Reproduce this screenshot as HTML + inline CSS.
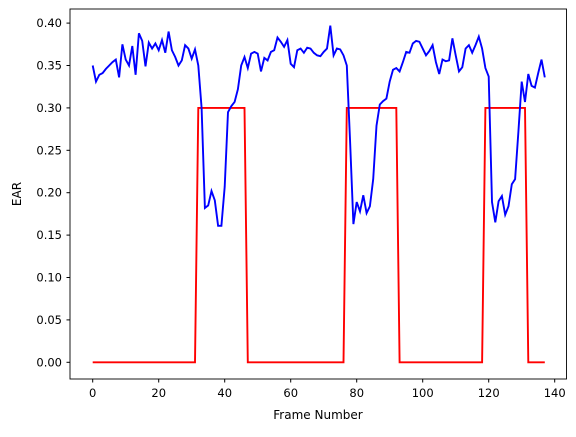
<!DOCTYPE html>
<html><head><meta charset="utf-8"><style>
body{margin:0;background:#fff;font-family:"Liberation Sans","DejaVu Sans",sans-serif;}
</style></head><body>
<svg id="chart" width="576" height="432" xmlns="http://www.w3.org/2000/svg" font-family="DejaVu Sans, Liberation Sans, sans-serif" font-size="11.5">
<rect width="576" height="432" fill="#fff"/>
<g id="grid"></g>
<polyline id="red" fill="none" stroke="#ff0000" stroke-width="1.9"/>
<polyline id="blue" fill="none" stroke="#0000ff" stroke-width="1.9"/>
<rect x="70" y="9" width="496.5" height="370" fill="none" stroke="#000" stroke-width="0.9"/>
<text x="318" y="419" text-anchor="middle" font-size="12">Frame Number</text>
<text transform="translate(21,194) rotate(-90)" text-anchor="middle" font-size="12">EAR</text>
</svg>
<script>
const earValues=[0.350,0.331,0.339,0.341,0.346,0.350,0.354,0.357,0.336,0.375,0.357,0.350,0.373,0.339,0.388,0.379,0.349,0.377,0.370,0.376,0.368,0.380,0.365,0.390,0.368,0.360,0.350,0.356,0.374,0.370,0.358,0.369,0.350,0.300,0.182,0.185,0.202,0.191,0.161,0.161,0.207,0.295,0.302,0.307,0.322,0.350,0.360,0.347,0.364,0.366,0.364,0.343,0.359,0.356,0.366,0.368,0.383,0.378,0.372,0.380,0.352,0.348,0.368,0.370,0.365,0.371,0.370,0.365,0.362,0.361,0.366,0.370,0.397,0.362,0.370,0.369,0.362,0.350,0.260,0.163,0.189,0.178,0.197,0.176,0.184,0.216,0.279,0.304,0.308,0.311,0.331,0.345,0.347,0.343,0.354,0.366,0.365,0.376,0.379,0.378,0.370,0.362,0.367,0.374,0.354,0.340,0.357,0.355,0.356,0.382,0.362,0.343,0.348,0.370,0.374,0.365,0.374,0.384,0.370,0.347,0.337,0.189,0.165,0.190,0.196,0.174,0.184,0.210,0.216,0.272,0.331,0.307,0.340,0.326,0.324,0.341,0.357,0.336];
const blinkOn=[[32,46],[77,92],[119,131]];
const xTicks=[0,20,40,60,80,100,120,140];
const yTicks=[0,0.05,0.10,0.15,0.20,0.25,0.30,0.35,0.40];
const X=f=>92.7+3.3*f, Y=v=>362.3-848*v;
const ns="http://www.w3.org/2000/svg";
const red=[];
for(let f=0;f<earValues.length;f++){let on=blinkOn.some(r=>f>=r[0]&&f<=r[1]);red.push(on?0.3:0);}
document.getElementById('blue').setAttribute('points',earValues.map((v,i)=>X(i)+','+Y(v)).join(' '));
document.getElementById('red').setAttribute('points',red.map((v,i)=>X(i)+','+Y(v)).join(' '));
const g=document.getElementById('grid');
xTicks.forEach(t=>{
 const l=document.createElementNS(ns,'line');
 
 
 l.setAttribute('x1',X(t));l.setAttribute('x2',X(t));l.setAttribute('y1',379);l.setAttribute('y2',382.5);l.setAttribute('stroke','#000');
 g.appendChild(l);
 const tx=document.createElementNS(ns,'text');
 
 
 tx.setAttribute('x',X(t));tx.setAttribute('y',397);tx.setAttribute('text-anchor','middle');tx.textContent=t;
 g.appendChild(tx);
});
yTicks.forEach(t=>{
 const l=document.createElementNS(ns,'line');
 
 
 l.setAttribute('x1',66.5);l.setAttribute('x2',70);l.setAttribute('y1',Y(t));l.setAttribute('y2',Y(t));l.setAttribute('stroke','#000');
 g.appendChild(l);
 const tx=document.createElementNS(ns,'text');
 
 
 tx.setAttribute('x',62);tx.setAttribute('y',Y(t)+4);tx.setAttribute('text-anchor','end');tx.textContent=t.toFixed(2);
 g.appendChild(tx);
});
</script>
</body></html>
